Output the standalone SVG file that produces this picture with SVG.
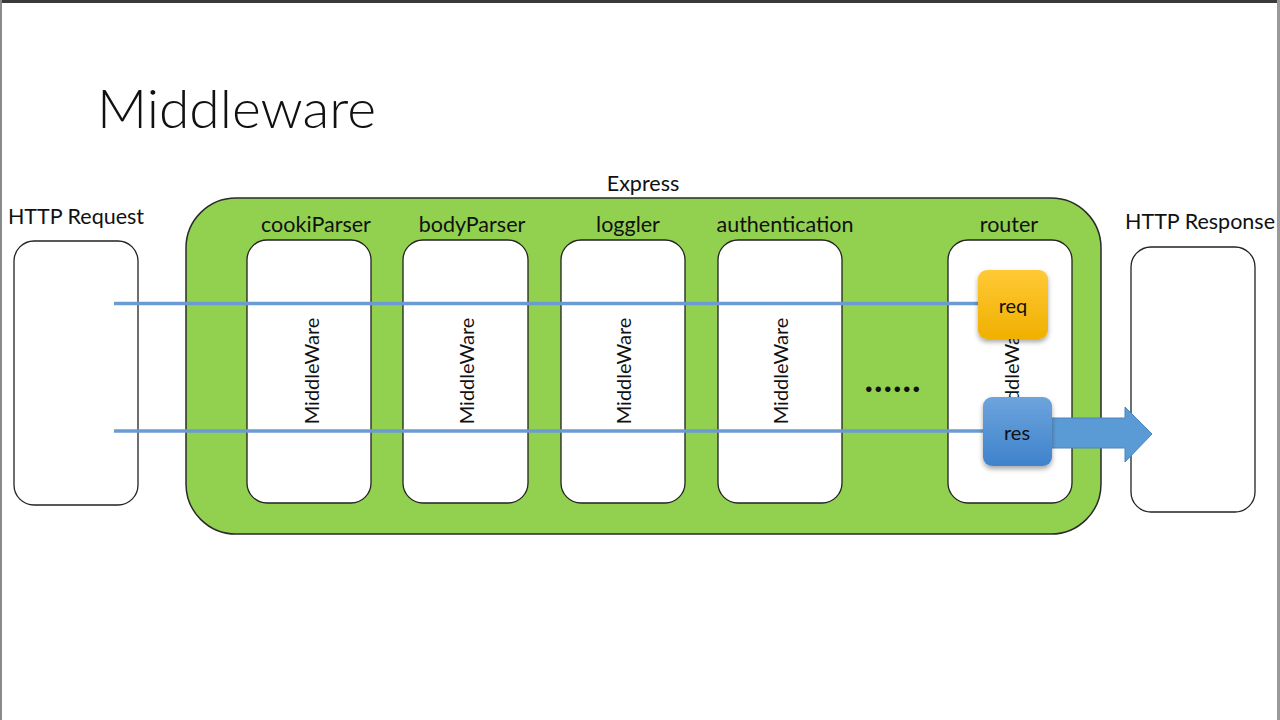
<svg xmlns="http://www.w3.org/2000/svg" width="1280" height="720" viewBox="0 0 1280 720">
<defs>
<style>
.t{font-family:Lato,"Liberation Sans",sans-serif;fill:#111;}
.lbl{font-size:21.5px;text-anchor:middle;}
.mw{font-size:20px;text-anchor:middle;dominant-baseline:central;}
.box{fill:#fff;stroke:#222;stroke-width:1.3;}
.flow{stroke:#6b9bd1;stroke-width:3.5;fill:none;}
</style>
<linearGradient id="gReq" x1="0" y1="0" x2="0" y2="1">
<stop offset="0" stop-color="#ffc936"/>
<stop offset="1" stop-color="#f0b000"/>
</linearGradient>
<linearGradient id="gRes" x1="0" y1="0" x2="0" y2="1">
<stop offset="0" stop-color="#6da4dc"/>
<stop offset="1" stop-color="#3f82cc"/>
</linearGradient>
<filter id="sh" x="-20%" y="-20%" width="140%" height="150%">
<feDropShadow dx="0" dy="3" stdDeviation="2.5" flood-color="#000" flood-opacity="0.35"/>
</filter>
</defs>
<rect x="0" y="0" width="1280" height="720" fill="#fff"/>
<rect x="0" y="0" width="1280" height="3" fill="#3a3a3a"/>
<rect x="0" y="0" width="2" height="720" fill="#8a8a8a"/>
<rect x="1277" y="0" width="3" height="720" fill="#9a9a9a"/>

<text class="t" x="97" y="128" font-size="54" font-weight="300" textLength="279" lengthAdjust="spacingAndGlyphs">Middleware</text>

<g id="httpRequest">
<text class="t" x="76" y="224" font-size="21.5" text-anchor="middle">HTTP Request</text>
<rect class="box" x="14" y="241" width="124" height="264" rx="20"/>
</g>

<g id="express">
<text class="t lbl" x="643" y="191" font-size="20">Express</text>
<rect x="186" y="198" width="915" height="336" rx="50" fill="#92d050" stroke="#2a2a2a" stroke-width="1.5"/>
</g>

<g id="cookiParser">
<text class="t lbl" x="316" y="232">cookiParser</text>
<rect class="box" x="247" y="240" width="124" height="263" rx="20"/>
<text class="t mw" transform="translate(311,371) rotate(-90)">MiddleWare</text>
</g>
<g id="bodyParser">
<text class="t lbl" x="472" y="232">bodyParser</text>
<rect class="box" x="403" y="240" width="125" height="263" rx="20"/>
<text class="t mw" transform="translate(466,371) rotate(-90)">MiddleWare</text>
</g>
<g id="loggler">
<text class="t lbl" x="628" y="232">loggler</text>
<rect class="box" x="561" y="240" width="124" height="263" rx="20"/>
<text class="t mw" transform="translate(623,371) rotate(-90)">MiddleWare</text>
</g>
<g id="authentication">
<text class="t lbl" x="785" y="232">authentication</text>
<rect class="box" x="718" y="240" width="124" height="263" rx="20"/>
<text class="t mw" transform="translate(780,371) rotate(-90)">MiddleWare</text>
</g>
<g id="ellipsis">
<text class="t" x="892.5" y="392" font-size="36" font-weight="bold" text-anchor="middle" textLength="56" lengthAdjust="spacing">......</text>
</g>
<g id="router">
<text class="t lbl" x="1009" y="232">router</text>
<rect class="box" x="948" y="240" width="124" height="263" rx="20"/>
<text class="t mw" transform="translate(1011,371) rotate(-90)">MiddleWare</text>
</g>

<g id="httpResponse">
<text class="t" x="1200" y="229" font-size="21.5" text-anchor="middle">HTTP Response</text>
<rect class="box" x="1131" y="247" width="124" height="265" rx="20"/>
</g>

<g id="connectors">
<line class="flow" x1="114" y1="303.5" x2="980" y2="303.5"/>
<line class="flow" x1="114" y1="431" x2="985" y2="431"/>
<path d="M1050,418 L1125,418 L1125,407 L1152,434 L1125,462 L1125,448 L1050,448 Z" fill="#5b9bd5" stroke="#4a84bd" stroke-width="1"/>
</g>

<g id="req">
<rect x="978" y="270" width="70" height="69" rx="9" fill="url(#gReq)" filter="url(#sh)"/>
<text class="t" x="1013" y="305" font-size="20" text-anchor="middle" dominant-baseline="central">req</text>
</g>
<g id="res">
<rect x="983" y="397" width="69" height="69" rx="9" fill="url(#gRes)" filter="url(#sh)"/>
<text class="t" x="1017" y="432" font-size="20" text-anchor="middle" dominant-baseline="central">res</text>
</g>
</svg>
